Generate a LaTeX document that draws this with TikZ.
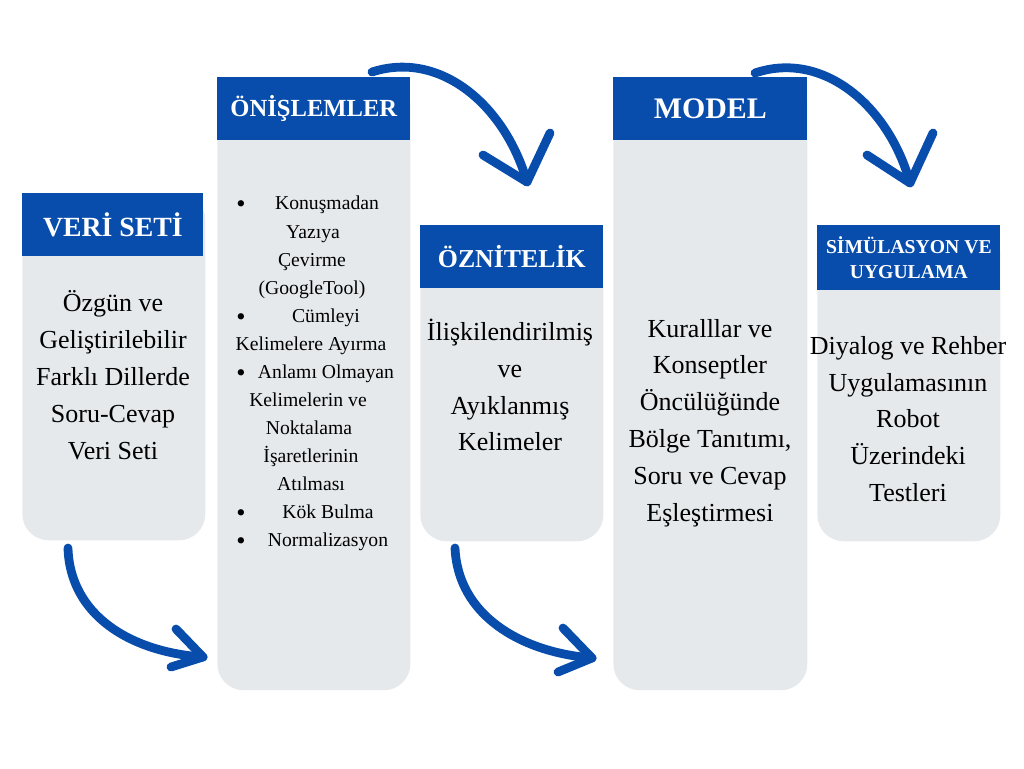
\documentclass[tikz,border=0pt]{standalone}
\usepackage{fontspec}
\setmainfont{Liberation Serif}
\usetikzlibrary{calc,positioning}
\definecolor{headblue}{RGB}{8,77,172}
\definecolor{boxgray}{RGB}{230,233,236}

\tikzset{
  body/.style={fill=boxgray, rounded corners=15pt, anchor=north west, inner sep=0pt},
  head/.style={fill=headblue, anchor=north west, inner sep=0pt, text=white, align=center, font=\bfseries},
  bodytext/.style={align=center, text=black, font=\fontsize{14.8}{21}\selectfont},
  listtext/.style={text=black, inner sep=0pt, text height=1.5ex, text depth=.25ex, font=\fontsize{11.2}{16}\selectfont},
  flow/.style={draw=headblue, line width=5pt, line cap=round, line join=round}
}

\begin{document}
\begin{tikzpicture}[x=0.02cm, y=-0.02cm]
\useasboundingbox (0,0) rectangle (1024,768);

% columns
\node[body, minimum width=3.66cm, minimum height=6.94cm] (veri) at (22,193) {};
\node[body, minimum width=3.86cm, minimum height=12.26cm] (onis) at (217,77) {};
\node[body, minimum width=3.66cm, minimum height=6.32cm] (ozn) at (420,225) {};
\node[body, minimum width=3.88cm, minimum height=12.26cm] (model) at (613,77) {};
\node[body, minimum width=3.66cm, minimum height=6.32cm] (sim) at (817,225) {};

% headers
\node[head, minimum width=3.62cm, minimum height=1.26cm, font=\bfseries\fontsize{15.8}{18}\selectfont] (veri-h) at (veri.north west) {VERİ SETİ};
\node[head, minimum width=3.86cm, minimum height=1.26cm, font=\bfseries\fontsize{14}{16}\selectfont] (onis-h) at (onis.north west) {ÖNİŞLEMLER};
\node[head, minimum width=3.66cm, minimum height=1.26cm, font=\bfseries\fontsize{14.7}{16}\selectfont] (ozn-h) at (ozn.north west) {ÖZNİTELİK};
\node[head, minimum width=3.88cm, minimum height=1.26cm, font=\bfseries\fontsize{17}{19}\selectfont] (model-h) at (model.north west) {MODEL};
\node[head, minimum width=3.66cm, minimum height=1.3cm, font=\bfseries\fontsize{11.2}{14}\selectfont] (sim-h) at (sim.north west) {SİMÜLASYON VE\\UYGULAMA};

% texts
\node[bodytext] (veri-t) at (113,375) {Özgün ve\\Geliştirilebilir\\Farklı Dillerde\\Soru-Cevap\\Veri Seti};
\foreach \y [count=\i] in {204,317,373,513,541}
  \node[listtext, font=\fontsize{15}{16}\selectfont, yshift=-2.2pt] (onis-b\i) at (241,\y) {\textbullet};
\foreach \x/\y/\t [count=\i] in {327/204/Konuşmadan, 313/233/Yazıya, 312/261/Çevirme,
    312/289/{(GoogleTool)}, 326/317/Cümleyi, 311/345/Kelimelere Ayırma,
    326/373/Anlamı Olmayan, 308/401/Kelimelerin ve, 309/429/Noktalama,
    311/457/İşaretlerinin, 311/485/Atılması, 328/513/Kök Bulma, 328/541/Normalizasyon}
  \node[listtext] (onis-l\i) at (\x,\y) {\t};
\node[bodytext] (ozn-t) at (510,385) {İlişkilendirilmiş\\ve\\Ayıklanmış\\Kelimeler};
\node[bodytext] (model-t) at (710,423) {Kuralllar ve\\Konseptler\\Öncülüğünde\\Bölge Tanıtımı,\\Soru ve Cevap\\Eşleştirmesi};
\node[bodytext] (sim-t) at (908,419) {Diyalog ve Rehber\\Uygulamasının\\Robot\\Üzerindeki\\Testleri};

% arrows
\coordinate (a1s) at (68,548);  \coordinate (a1e) at (203,657);
\coordinate (a2s) at (455,548); \coordinate (a2e) at (592,658);
\coordinate (a3s) at (372,72);  \coordinate (a3e) at (527,182);
\coordinate (a4s) at (755,73);  \coordinate (a4e) at (910,183);

\draw[flow] (a1s) .. controls (70,615) and (130,652) .. (a1e);
\draw[flow] (a1e) ++(-27,-28) -- (a1e) -- ++(-32,10);
\draw[flow] (a2s) .. controls (458,615) and (520,652) .. (a2e);
\draw[flow] (a2e) ++(-29,-30) -- (a2e) -- ++(-34,14);
\draw[flow] (a3s) .. controls (440,50) and (505,105) .. (a3e);
\draw[flow] (a3e) ++(-44,-27) -- (a3e) -- ++(23,-49);
\draw[flow] (a4s) .. controls (823,50) and (889,106) .. (a4e);
\draw[flow] (a4e) ++(-43,-28) -- (a4e) -- ++(23,-50);
\end{tikzpicture}
\end{document}
